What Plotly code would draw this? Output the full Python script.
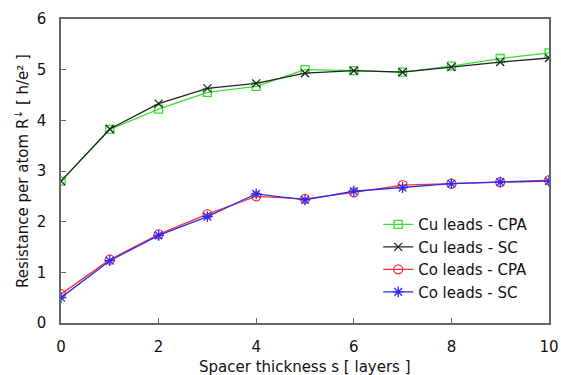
import plotly.graph_objects as go

s = list(range(11))
cu_cpa = [2.80, 3.82, 4.22, 4.55, 4.67, 5.00, 4.98, 4.95, 5.07, 5.22, 5.33]
cu_sc = [2.80, 3.83, 4.33, 4.63, 4.73, 4.93, 4.98, 4.95, 5.05, 5.15, 5.23]
co_cpa = [0.57, 1.25, 1.75, 2.15, 2.50, 2.45, 2.58, 2.72, 2.75, 2.78, 2.82]
co_sc = [0.50, 1.23, 1.73, 2.10, 2.55, 2.43, 2.60, 2.67, 2.75, 2.78, 2.80]

x_title = "Spacer thickness s [ layers ]"
y_title = "Resistance per atom R<sup>↓</sup> [ h/e² ]"

series = [
    ("Cu leads - CPA", cu_cpa, "#33e033", "square-open", 8),
    ("Cu leads - SC", cu_sc, "#222222", "x-thin-open", 8),
    ("Co leads - CPA", co_cpa, "#ff3030", "circle-open", 9),
    ("Co leads - SC", co_sc, "#2a2aff", "asterisk-open", 9),
]

fig = go.Figure()
for name, ys, col, sym, sz in series:
    fig.add_trace(go.Scatter(
        x=s, y=ys, name=name, mode="lines+markers",
        line=dict(color=col, width=1.3),
        marker=dict(symbol=sym, size=sz, color=col, line=dict(color=col, width=1.3)),
    ))

font = dict(family="DejaVu Sans, Verdana, sans-serif", size=15, color="#111111")
fig.update_layout(
    width=561, height=375,
    margin=dict(l=61, r=12, t=19, b=52),
    paper_bgcolor="white", plot_bgcolor="white",
    font=font,
    showlegend=True,
    legend=dict(x=0.65, y=0.378, xanchor="left", yanchor="top",
                bgcolor="rgba(0,0,0,0)", borderwidth=0, itemwidth=30,
                tracegroupgap=0,
                font=dict(family="DejaVu Sans, Verdana, sans-serif", size=15)),
    annotations=[
        dict(text=x_title, xref="paper", yref="paper", x=0.5, y=0,
             xanchor="center", yanchor="middle", yshift=-44, showarrow=False,
             font=font),
        dict(text=y_title, xref="paper", yref="paper", x=0, y=0.5,
             xanchor="center", yanchor="middle", xshift=-39, textangle=-90,
             showarrow=False, font=font),
    ],
)
fig.update_xaxes(
    range=[0, 10], tickvals=[0, 2, 4, 6, 8, 10],
    ticks="inside", ticklen=5, tickcolor="#666666",
    showline=True, linecolor="#666666", linewidth=1.5, mirror=True,
    showgrid=False, zeroline=False, ticklabelstandoff=9, automargin=False,
)
fig.update_yaxes(
    range=[0, 6], tickvals=[0, 1, 2, 3, 4, 5, 6],
    ticks="inside", ticklen=5, tickcolor="#666666",
    showline=True, linecolor="#666666", linewidth=1.5, mirror=True,
    showgrid=False, zeroline=False, ticklabelstandoff=10, automargin=False,
)
fig.write_html("out.html")
